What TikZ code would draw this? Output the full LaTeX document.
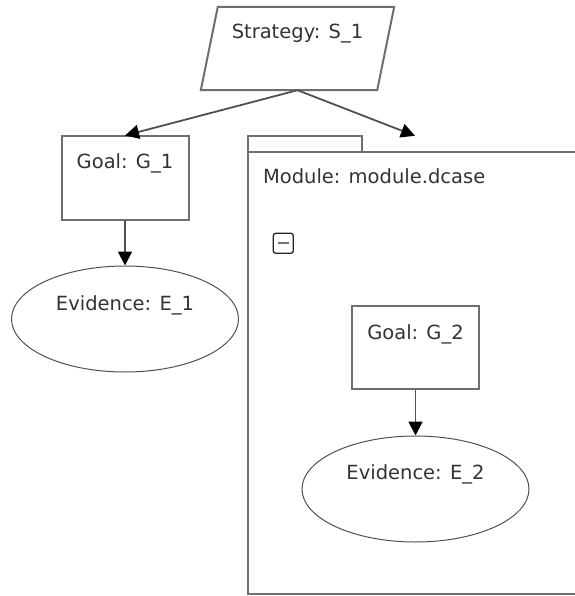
\documentclass[tikz,border=0pt]{standalone}
\usepackage{fontspec}
\setmainfont{DejaVu Sans}
\usepackage{xcolor}
\usepackage{tikz}
\usetikzlibrary{shapes.geometric,arrows.meta}

\definecolor{edgegray}{HTML}{6E6E6E}
\definecolor{ringgray}{HTML}{505050}
\definecolor{textgray}{HTML}{333333}

\begin{document}
\begin{tikzpicture}[x=1pt, y=-1pt,
    boxline/.style={draw=edgegray, line width=2pt},
    strat/.style={rectangle, minimum width=176pt, minimum height=83pt, inner sep=0pt},
    goal/.style={boxline, rectangle, minimum width=127pt, minimum height=83pt, inner sep=0pt},
    evid/.style={draw=ringgray, line width=1pt, ellipse, minimum width=227pt, minimum height=106pt, inner sep=0pt},
    lbl/.style={text=textgray, font=\fontsize{19.5}{23}\selectfont, inner sep=0pt, anchor=base},
    link/.style={draw=ringgray, line width=1.8pt, -{Triangle[length=14pt, width=14pt, color=black, fill=black]}}
    ]
    \useasboundingbox (0,0) rectangle (574,596);

    \node[strat] (s1) at (297.5,48.5) {};
    \draw[boxline] ([xshift=-8.5pt]s1.south west) -- ([xshift=-8.5pt]s1.south east)
      -- ([xshift=8.5pt]s1.north east) -- ([xshift=8.5pt]s1.north west) -- cycle;
    \node[lbl] (s1t) at ([yshift=-32pt]s1.north) {Strategy: S\_1};

    \node[goal] (g1) at (125,178) {};
    \node[lbl] (g1t) at ([yshift=-33pt]g1.north) {Goal: G\_1};
    \node[evid] (e1) at (125,319) {};
    \node[lbl] (e1t) at ([yshift=-45pt]e1.north) {Evidence: E\_1};

    \node[minimum width=334pt, minimum height=458pt, inner sep=0pt] (mod) at (415,365) {};
    \draw[boxline] ([yshift=-16pt]mod.north west) rectangle (mod.south east);
    \draw[boxline] ([yshift=-16pt]mod.north west) |- ([xshift=114pt]mod.north west) -- ++(0,-16pt);
    \node[lbl, anchor=base west] (modt) at ([xshift=15pt, yshift=-48pt]mod.north west) {Module: module.dcase};
    \node[draw=black!85, line width=1.3pt, rounded corners=2.5pt, minimum size=20pt, inner sep=0pt]
      (fold) at ([xshift=35.5pt, yshift=-107.5pt]mod.north west) {};
    \draw[draw=black!55, line width=1.8pt] ([xshift=-5.5pt]fold.center) -- ([xshift=5.5pt]fold.center);

    \node[goal] (g2) at (415.5,347.5) {};
    \node[lbl] (g2t) at ([yshift=-34pt]g2.north) {Goal: G\_2};
    \node[evid] (e2) at (415.5,489) {};
    \node[lbl] (e2t) at ([yshift=-44pt]e2.north) {Evidence: E\_2};

    \draw[link] (s1.south) -- (g1.north);
    \draw[link] (s1.south) -- (mod.north);
    \draw[link] (g1.south) -- (e1.north);
    \draw[link] (g2.south) -- (e2.north);
  \end{tikzpicture}
\end{document}
